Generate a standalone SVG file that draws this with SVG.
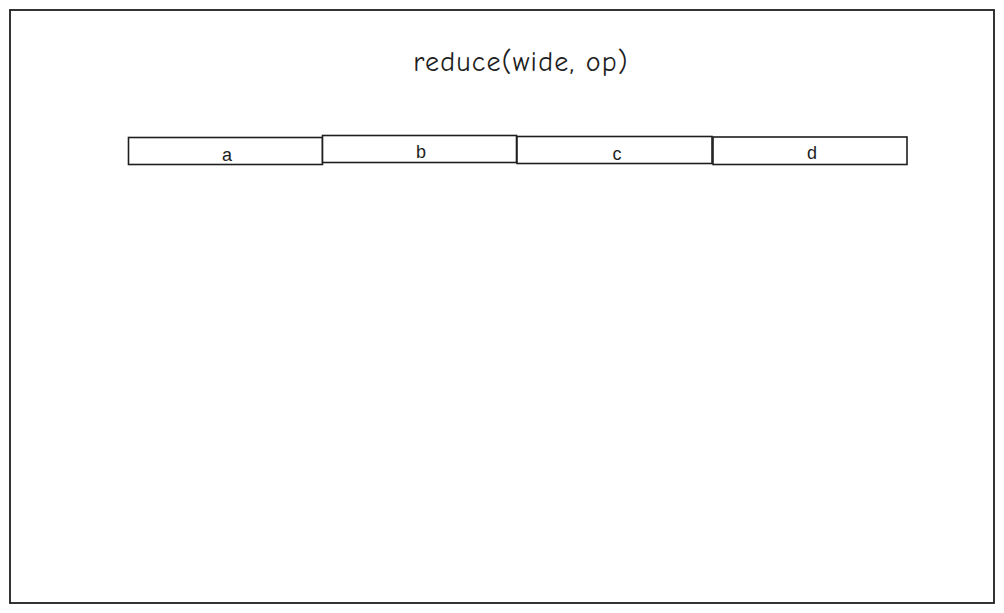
<svg xmlns="http://www.w3.org/2000/svg" width="1004" height="613" viewBox="0 0 1004 613">
<style>
.frame{fill:#ffffff;stroke:#1e1e1e;stroke-width:1.8}
.cell{fill:#ffffff;stroke:#1e1e1e;stroke-width:1.6}
.title{font-family:"Comic Neue","Liberation Sans",sans-serif;font-size:28px;letter-spacing:1.2px;fill:#1e1e1e;text-anchor:middle}
.lbl{font-family:"Liberation Sans",sans-serif;font-size:18px;fill:#1e1e1e;text-anchor:middle}
</style>
<rect x="0" y="0" width="1004" height="613" fill="#ffffff"/>
<rect class="frame" x="10" y="10" width="984" height="593"/>
<text class="title" x="521" y="71">reduce(wide, op)</text>
<g id="node-a">
<rect class="cell" x="128.5" y="137.5" width="194" height="27"/>
<text class="lbl" x="227" y="161">a</text>
</g>
<g id="node-b">
<rect class="cell" x="322.5" y="135.5" width="194" height="27"/>
<text class="lbl" x="421" y="158">b</text>
</g>
<g id="node-c">
<rect class="cell" x="517" y="136.5" width="195" height="27"/>
<text class="lbl" x="617" y="160">c</text>
</g>
<g id="node-d">
<rect class="cell" x="713" y="137" width="194" height="27.5"/>
<text class="lbl" x="812" y="159">d</text>
</g>
<g id="connectors"></g>
</svg>
